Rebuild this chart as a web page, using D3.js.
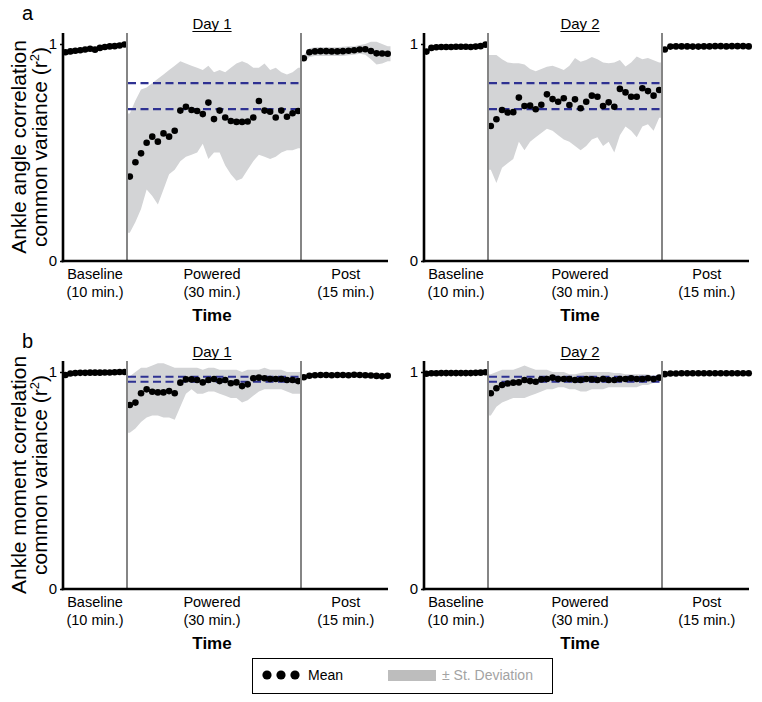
<!DOCTYPE html>
<html><head><meta charset="utf-8">
<script src="https://cdn.jsdelivr.net/npm/d3@7"></script>
<style>
body{margin:0;background:#fff}
svg{display:block}
text{font-family:"Liberation Sans",Arial,Helvetica,sans-serif;fill:#000}
</style>
</head><body>
<svg id="chart" width="762" height="702"></svg>
<script>
// ---------------- DATA ----------------
const sectionNames = ["Baseline", "Powered", "Post"];
const sectionDurations = ["(10 min.)", "(30 min.)", "(15 min.)"];
const sectionBounds = [0, 10, 40, 55];       // minutes
const sectionCounts = [13, 31, 16];          // samples per section
const yTicks = [0, 1];
const dayTitles = ["Day 1", "Day 2"];
const rowLetters = ["a", "b"];
const rowYLabels = [["Ankle angle correlation", "common variance (r"], ["Ankle moment correlation", "common variance (r"]];
const angleRefLines = [0.70, 0.82];
const momentRefLines = [0.955, 0.978];
const legendLabels = ["Mean", "\u00B1 St. Deviation"];

// Ankle angle, Day 1
const angleDay1Mean = [
  0.962,0.966,0.969,0.971,0.975,0.978,0.974,0.982,0.986,0.989,0.990,0.993,0.998,
  0.389,0.455,0.496,0.545,0.573,0.550,0.588,0.573,0.600,0.693,0.711,0.696,0.691,0.677,0.730,0.654,0.693,0.661,0.645,0.641,0.641,0.643,0.661,0.737,0.693,0.688,0.661,0.693,0.665,0.681,0.691,
  0.934,0.962,0.966,0.967,0.967,0.966,0.966,0.967,0.969,0.971,0.975,0.976,0.968,0.957,0.956,0.955];
const angleDay1Upper = [
  0.975,0.978,0.980,0.982,0.985,0.988,0.986,0.992,0.995,0.998,0.999,1.000,1.005,
  0.68,0.74,0.79,0.80,0.82,0.84,0.86,0.88,0.90,0.92,0.91,0.90,0.89,0.88,0.90,0.87,0.88,0.87,0.89,0.91,0.92,0.91,0.89,0.89,0.91,0.88,0.89,0.87,0.86,0.87,0.89,
  0.95,0.98,0.985,0.985,0.985,0.985,0.985,0.987,0.99,0.99,0.995,1.0,1.01,1.01,1.0,0.99];
const angleDay1Lower = [
  0.948,0.952,0.956,0.958,0.962,0.966,0.962,0.970,0.975,0.978,0.980,0.984,0.990,
  0.13,0.18,0.24,0.33,0.30,0.26,0.33,0.40,0.42,0.46,0.48,0.49,0.50,0.54,0.47,0.50,0.50,0.44,0.40,0.37,0.38,0.42,0.46,0.49,0.48,0.47,0.48,0.50,0.51,0.51,0.52,
  0.92,0.94,0.945,0.945,0.945,0.945,0.945,0.945,0.948,0.95,0.955,0.95,0.93,0.905,0.91,0.92];

// Ankle angle, Day 2
const angleDay2Mean = [
  0.965,0.982,0.985,0.986,0.986,0.986,0.987,0.987,0.987,0.986,0.988,0.990,0.997,
  0.622,0.653,0.696,0.684,0.686,0.753,0.714,0.716,0.699,0.720,0.768,0.746,0.734,0.750,0.719,0.745,0.704,0.734,0.762,0.757,0.714,0.731,0.711,0.793,0.777,0.757,0.757,0.796,0.783,0.762,0.788,
  0.975,0.988,0.989,0.989,0.989,0.988,0.988,0.989,0.989,0.990,0.990,0.989,0.990,0.990,0.990,0.989];
const angleDay2Upper = [
  0.972,0.988,0.991,0.992,0.992,0.992,0.993,0.993,0.993,0.992,0.994,0.996,1.003,
  0.949,0.949,0.93,0.915,0.911,0.911,0.905,0.885,0.875,0.885,0.895,0.90,0.89,0.88,0.90,0.935,0.918,0.926,0.94,0.93,0.915,0.911,0.915,0.926,0.896,0.915,0.942,0.93,0.935,0.925,0.915,
  0.982,0.994,0.995,0.995,0.995,0.994,0.994,0.995,0.995,0.996,0.996,0.995,0.996,0.996,0.996,0.995];
const angleDay2Lower = [
  0.958,0.976,0.979,0.980,0.980,0.980,0.981,0.981,0.981,0.980,0.982,0.984,0.991,
  0.42,0.36,0.43,0.45,0.47,0.55,0.51,0.55,0.57,0.59,0.61,0.60,0.58,0.56,0.55,0.53,0.51,0.53,0.56,0.57,0.53,0.55,0.50,0.58,0.62,0.60,0.57,0.62,0.63,0.60,0.66,
  0.968,0.982,0.983,0.983,0.983,0.982,0.982,0.983,0.983,0.984,0.984,0.983,0.984,0.984,0.984,0.983];

// Ankle moment, Day 1
const momentDay1Mean = [
  0.986,0.993,0.995,0.996,0.996,0.997,0.997,0.997,0.998,0.998,0.999,1.000,1.000,
  0.848,0.859,0.902,0.920,0.909,0.906,0.906,0.912,0.902,0.951,0.966,0.966,0.963,0.952,0.963,0.968,0.958,0.963,0.948,0.952,0.935,0.943,0.971,0.974,0.971,0.968,0.968,0.968,0.963,0.963,0.958,
  0.976,0.983,0.985,0.986,0.986,0.985,0.986,0.986,0.985,0.987,0.986,0.985,0.984,0.982,0.980,0.983];
const momentDay1Upper = [
  0.992,0.999,1.001,1.002,1.002,1.003,1.003,1.003,1.004,1.004,1.005,1.006,1.006,
  0.98,1.00,1.02,1.02,1.03,1.04,1.04,1.03,1.02,1.02,1.02,1.02,1.02,1.01,1.02,1.02,1.01,1.01,1.01,1.01,1.00,1.01,1.01,1.01,1.02,1.01,1.01,1.01,1.00,1.00,1.00,
  0.986,0.993,0.995,0.996,0.996,0.995,0.996,0.996,0.995,0.997,0.997,0.996,0.996,0.994,0.992,0.994];
const momentDay1Lower = [
  0.980,0.987,0.989,0.990,0.990,0.991,0.991,0.991,0.992,0.992,0.993,0.994,0.994,
  0.72,0.74,0.77,0.79,0.80,0.80,0.79,0.79,0.78,0.84,0.90,0.92,0.90,0.90,0.91,0.91,0.90,0.89,0.88,0.88,0.86,0.87,0.89,0.91,0.92,0.92,0.92,0.92,0.91,0.90,0.90,
  0.966,0.973,0.975,0.976,0.976,0.975,0.976,0.976,0.975,0.977,0.975,0.974,0.972,0.970,0.968,0.972];

// Ankle moment, Day 2
const momentDay2Mean = [
  0.992,0.994,0.994,0.995,0.995,0.995,0.995,0.995,0.995,0.995,0.996,0.997,0.999,
  0.902,0.925,0.940,0.947,0.951,0.952,0.963,0.958,0.955,0.966,0.968,0.974,0.968,0.968,0.968,0.963,0.963,0.968,0.966,0.963,0.968,0.963,0.963,0.968,0.968,0.971,0.968,0.968,0.971,0.968,0.974,
  0.990,0.993,0.993,0.994,0.994,0.994,0.994,0.994,0.994,0.994,0.994,0.994,0.994,0.994,0.994,0.994];
const momentDay2Upper = [
  0.996,0.998,0.998,0.999,0.999,0.999,0.999,0.999,0.999,0.999,1.000,1.001,1.003,
  0.99,1.00,1.01,1.01,1.01,1.02,1.03,1.02,1.01,1.01,1.01,1.00,1.00,1.00,0.99,0.99,0.995,1.00,1.00,1.00,1.00,1.00,0.995,0.995,0.99,0.99,0.99,0.99,0.99,0.98,0.975,
  0.994,0.997,0.997,0.998,0.998,0.998,0.998,0.998,0.998,0.998,0.998,0.998,0.998,0.998,0.998,0.998];
const momentDay2Lower = [
  0.988,0.990,0.990,0.991,0.991,0.991,0.991,0.991,0.991,0.991,0.992,0.993,0.995,
  0.80,0.84,0.86,0.87,0.88,0.88,0.88,0.89,0.90,0.91,0.92,0.92,0.93,0.93,0.92,0.92,0.91,0.91,0.92,0.92,0.92,0.93,0.93,0.93,0.93,0.93,0.93,0.94,0.94,0.95,0.96,
  0.986,0.989,0.989,0.990,0.990,0.990,0.990,0.990,0.990,0.990,0.990,0.990,0.990,0.990,0.990,0.990];

// ---------------- LAYOUT ----------------
const colAxisX = [63, 424];
const rowOffset = [0, 328];
const titleCenterX = [212, 580];
const axisTop = 33, yPix0 = 261, yPix1 = 44;
const C = {
  band: "#d3d4d6", dash: "#2e3192", divider: "#858585", dot: "#000"
};

const panels = [
  {row:0, col:0, mean:angleDay1Mean, lo:angleDay1Lower, hi:angleDay1Upper, refs:angleRefLines},
  {row:0, col:1, mean:angleDay2Mean, lo:angleDay2Lower, hi:angleDay2Upper, refs:angleRefLines},
  {row:1, col:0, mean:momentDay1Mean, lo:momentDay1Lower, hi:momentDay1Upper, refs:momentRefLines},
  {row:1, col:1, mean:momentDay2Mean, lo:momentDay2Lower, hi:momentDay2Upper, refs:momentRefLines}
];

// sample times (minutes) for each index
const times = [];
sectionCounts.forEach((n, s) => {
  const a = sectionBounds[s], b = sectionBounds[s + 1];
  for (let i = 0; i < n; i++) times.push({t: a + (i + 0.5) * (b - a) / n, s: s});
});

const svg = d3.select("#chart");

panels.forEach(p => {
  const ax = colAxisX[p.col], off = rowOffset[p.row];
  const x = d3.scaleLinear().domain(sectionBounds).range([ax, ax + 64, ax + 238, ax + 327.5]);
  const y = d3.scaleLinear().domain([0, 1]).range([yPix0 + off, yPix1 + off]);
  const g = svg.append("g");

  // bands per section
  sectionCounts.forEach((n, s) => {
    const pts = [];
    times.forEach((d, i) => { if (d.s === s) pts.push({t: d.t, lo: p.lo[i], hi: p.hi[i]}); });
    const ext = [{t: sectionBounds[s], lo: pts[0].lo, hi: pts[0].hi}, ...pts,
                 {t: sectionBounds[s + 1], lo: pts[pts.length - 1].lo, hi: pts[pts.length - 1].hi}];
    const area = d3.area().x(d => x(d.t)).y0(d => y(d.lo)).y1(d => y(d.hi));
    g.append("path").attr("d", area(ext)).attr("fill", C.band).attr("stroke", "none");
  });

  // reference dashed lines across powered section
  p.refs.forEach(v => {
    g.append("line")
      .attr("x1", x(sectionBounds[1]) + 1).attr("x2", x(sectionBounds[2]) - 1)
      .attr("y1", y(v)).attr("y2", y(v))
      .attr("stroke", C.dash).attr("stroke-width", 2.2).attr("stroke-dasharray", "8,4.5");
  });

  // mean dots
  g.selectAll("circle.m").data(p.mean).enter().append("circle")
    .attr("cx", (d, i) => x(times[i].t)).attr("cy", d => y(d)).attr("r", 3.3)
    .attr("fill", C.dot);

  // dividers
  [sectionBounds[1], sectionBounds[2]].forEach(t => {
    g.append("line").attr("x1", x(t)).attr("x2", x(t))
      .attr("y1", axisTop + off).attr("y2", yPix0 + off)
      .attr("stroke", C.divider).attr("stroke-width", 2);
  });

  // axes lines
  g.append("line").attr("x1", ax).attr("x2", ax).attr("y1", axisTop + off).attr("y2", yPix0 + off + 1.2)
    .attr("stroke", "#000").attr("stroke-width", 2.6);
  g.append("line").attr("x1", ax - 1.3).attr("x2", ax + 325).attr("y1", yPix0 + off).attr("y2", yPix0 + off)
    .attr("stroke", "#000").attr("stroke-width", 2.6);

  // y ticks
  const yAxis = g.append("g").attr("transform", `translate(${ax},0)`)
    .call(d3.axisLeft(y).tickValues(yTicks).tickFormat(d3.format("d")).tickSize(3).tickPadding(3).tickSizeOuter(0));
  yAxis.select(".domain").remove();
  yAxis.selectAll("text").style("font-size", "15px").attr("font-family", null);
  yAxis.selectAll("line").attr("stroke", "#000").attr("stroke-width", 1.5);

  // section labels
  sectionNames.forEach((name, s) => {
    const cx = s === 1 ? titleCenterX[p.col] : x((sectionBounds[s] + sectionBounds[s + 1]) / 2);
    g.append("text").attr("x", cx).attr("y", 279 + off).attr("text-anchor", "middle")
      .style("font-size", "14.5px").text(name);
    g.append("text").attr("x", cx).attr("y", 297 + off).attr("text-anchor", "middle")
      .style("font-size", "14.5px").text(sectionDurations[s]);
  });

  // Time
  g.append("text").attr("x", titleCenterX[p.col]).attr("y", 321 + off).attr("text-anchor", "middle")
    .style("font-size", "17px").style("font-weight", "bold").text("Time");

  // Day title with underline
  const tt = g.append("text").attr("x", titleCenterX[p.col]).attr("y", 29 + off).attr("text-anchor", "middle")
    .style("font-size", "15px").text(dayTitles[p.col]);
  const w = tt.node().getComputedTextLength();
  g.append("line").attr("x1", titleCenterX[p.col] - w / 2).attr("x2", titleCenterX[p.col] + w / 2)
    .attr("y1", 31.5 + off).attr("y2", 31.5 + off).attr("stroke", "#000").attr("stroke-width", 1);

  // y-axis label (left column only)
  if (p.col === 0) {
    const cy = 147 + off;
    const lab = rowYLabels[p.row];
    g.append("text").attr("transform", `translate(26,${cy}) rotate(-90)`).attr("text-anchor", "middle")
      .style("font-size", "21px").text(lab[0]);
    const t2 = g.append("text").attr("transform", `translate(47,${cy}) rotate(-90)`).attr("text-anchor", "middle")
      .style("font-size", "21px");
    t2.append("tspan").text(lab[1]);
    t2.append("tspan").attr("dy", -8).style("font-size", "13px").text("2");
    t2.append("tspan").attr("dy", 8).text(")");
    g.append("text").attr("x", 22).attr("y", 20 + off).style("font-size", "20px").text(rowLetters[p.row]);
  }
});

// ---------------- LEGEND ----------------
const lg = svg.append("g");
lg.append("rect").attr("x", 252.5).attr("y", 658.5).attr("width", 300).attr("height", 35)
  .attr("fill", "none").attr("stroke", "#000").attr("stroke-width", 1);
[267, 281, 295].forEach(cx => lg.append("circle").attr("cx", cx).attr("cy", 675).attr("r", 4.6).attr("fill", "#000"));
lg.append("text").attr("x", 308).attr("y", 680).style("font-size", "14px").text(legendLabels[0]);
lg.append("rect").attr("x", 388).attr("y", 670).attr("width", 48).attr("height", 11).attr("fill", "#bdbdbd");
lg.append("text").attr("x", 442).attr("y", 680).style("font-size", "14px").style("fill", "#a3a3a3").text(legendLabels[1]);
</script>
</body></html>
